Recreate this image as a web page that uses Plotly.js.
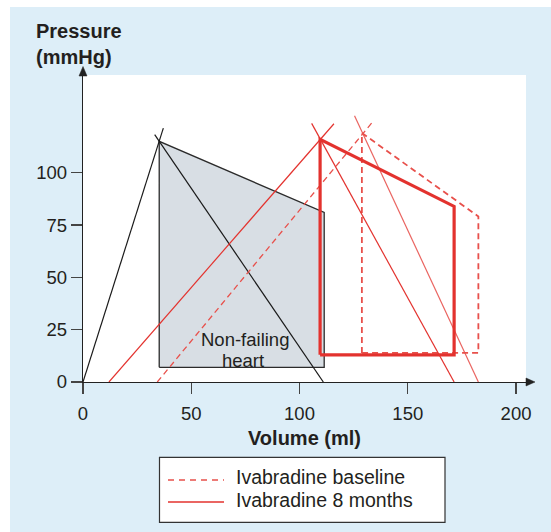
<!DOCTYPE html>
<html>
<head>
<meta charset="utf-8">
<script src="https://cdn.plot.ly/plotly-3.0.1.min.js"></script>
<style>html,body{margin:0;padding:0;background:#fff;}#chart{width:551px;height:532px;}</style>
</head>
<body>
<div id="chart"></div>
<script>
// ---- Data (volume in ml, pressure in mmHg) ----
// Non-failing heart (black, grey-filled loop)
const nfLoopV = [35.2, 35.2, 111.4, 111.4, 35.2];
const nfLoopP = [7, 115, 81, 7, 7];
const nfEspvrV = [0, 37.1];
const nfEspvrP = [0, 121.3];
const nfEaV = [33.1, 111.0];
const nfEaP = [118.2, 0];

// Ivabradine baseline (dashed red)
const baseLoopV = [128.8, 128.8, 182.6, 182.6, 128.8];
const baseLoopP = [13.9, 119.0, 79.1, 13.9, 13.9];
const baseEspvrV = [34.3, 133.3];
const baseEspvrP = [0, 123.7];
const baseEaV = [125.4, 182.6];
const baseEaP = [127.2, 0];

// Ivabradine 8 months (solid red)
const m8LoopV = [109.5, 109.5, 171.4, 171.4, 109.5];
const m8LoopP = [13.0, 116.0, 83.9, 13.0, 13.0];
const m8EspvrV = [12.0, 115.9];
const m8EspvrP = [0, 123.4];
const m8EaV = [105.6, 171.4];
const m8EaP = [123.6, 0];

// Ticks and labels
const xTicks = [0, 50, 100, 150, 200];
const yTicks = [0, 25, 50, 75, 100];
const legendLabels = ['Ivabradine baseline', 'Ivabradine 8 months'];
const loopLabel = ['Non-failing', 'heart'];

const RED = '#e3322e';
const INK = '#231f20';
const FONT = '"Liberation Sans", Arial, Helvetica, sans-serif';

const traces = [
  {x: nfLoopV, y: nfLoopP, mode: 'lines', fill: 'toself', fillcolor: '#d8dee4',
   line: {color: '#2b2b2b', width: 1.3}, name: 'Non-failing heart', showlegend: false, hoverinfo: 'skip'},
  {x: nfEspvrV, y: nfEspvrP, mode: 'lines', line: {color: '#1a1a1a', width: 1.2}, showlegend: false, hoverinfo: 'skip'},
  {x: nfEaV, y: nfEaP, mode: 'lines', line: {color: '#1a1a1a', width: 1.2}, showlegend: false, hoverinfo: 'skip'},

  {x: baseEspvrV, y: baseEspvrP, mode: 'lines', line: {color: '#e8504b', width: 1.3, dash: '6px,4px'}, showlegend: false, hoverinfo: 'skip'},
  {x: baseEaV, y: baseEaP, mode: 'lines', line: {color: '#ea6460', width: 1.2}, showlegend: false, hoverinfo: 'skip'},
  {x: baseLoopV, y: baseLoopP, mode: 'lines', line: {color: '#e8504b', width: 1.8, dash: '6px,4px'}, name: legendLabels[0], showlegend: false, hoverinfo: 'skip'},

  {x: m8EspvrV, y: m8EspvrP, mode: 'lines', line: {color: RED, width: 1.2}, showlegend: false, hoverinfo: 'skip'},
  {x: m8EaV, y: m8EaP, mode: 'lines', line: {color: RED, width: 1.2}, showlegend: false, hoverinfo: 'skip'},
  {x: m8LoopV, y: m8LoopP, mode: 'lines', line: {color: RED, width: 3.2}, name: legendLabels[1], showlegend: false, hoverinfo: 'skip'}
];

// pixel helpers for paper coordinates (plot area: x 83..526, y 75..382)
const L = 83, W = 443, B = 382, H = 307;
const px = v => (v - L) / W;
const py = v => (B - v) / H;

const layout = {
  width: 551, height: 532,
  margin: {l: 83, r: 25, t: 75, b: 150, pad: 0},
  paper_bgcolor: '#ddeef8',
  plot_bgcolor: '#ffffff',
  font: {family: FONT, color: INK, size: 18},
  showlegend: false,
  xaxis: {
    range: [0, 204.6], tickvals: xTicks, ticktext: xTicks.map(String),
    showgrid: false, zeroline: false, showline: true, linecolor: '#222', linewidth: 1.3,
    ticks: 'outside', ticklen: 11, tickwidth: 1.3, tickcolor: '#444', ticklabelstandoff: 3,
    tickfont: {size: 18.5, color: INK, family: FONT},
    title: {text: '<b>Volume (ml)</b>', font: {size: 20, color: INK, family: FONT}, standoff: 8},
    automargin: false, fixedrange: true
  },
  yaxis: {
    range: [0, 146.7], tickvals: yTicks, ticktext: yTicks.map(String),
    showgrid: false, zeroline: false, showline: true, linecolor: '#222', linewidth: 1.3,
    ticks: 'outside', ticklen: 11, tickwidth: 1.3, tickcolor: '#444',
    tickfont: {size: 18.5, color: INK, family: FONT},
    automargin: false, fixedrange: true
  },
  shapes: [
    // white strips outside the blue panel
    {type: 'rect', xref: 'paper', yref: 'paper', x0: px(0), x1: px(10), y0: py(532), y1: py(0), fillcolor: '#ffffff', line: {width: 0}, layer: 'above'},
    {type: 'rect', xref: 'paper', yref: 'paper', x0: px(0), x1: px(551), y0: py(7), y1: py(0), fillcolor: '#ffffff', line: {width: 0}, layer: 'above'},
    // axis arrow extensions
    {type: 'line', xref: 'paper', yref: 'paper', x0: px(526), x1: px(528), y0: 0, y1: 0, line: {color: '#222', width: 1.3}},
    {type: 'path', xref: 'paper', yref: 'paper', path: `M${px(526)},${py(B - 4)} L${px(535)},${py(B)} L${px(526)},${py(B + 4)} Z`, fillcolor: '#222', line: {color: '#222', width: 0.5}},
    {type: 'line', xref: 'paper', yref: 'paper', x0: 0, x1: 0, y0: 1, y1: py(73), line: {color: '#222', width: 1.3}},
    {type: 'path', xref: 'paper', yref: 'paper', path: `M${px(L - 4)},${py(76)} L${px(L)},${py(66.5)} L${px(L + 4)},${py(76)} Z`, fillcolor: '#222', line: {color: '#222', width: 0.5}},
    // legend box
    {type: 'rect', xref: 'paper', yref: 'paper', x0: px(159.5), x1: px(445), y0: py(522.3), y1: py(457.3), fillcolor: '#ffffff', line: {color: '#333', width: 1.2}},
    {type: 'line', xref: 'paper', yref: 'paper', x0: px(168), x1: px(224), y0: py(480), y1: py(480), line: {color: '#e8504b', width: 1.3, dash: '6px,5px'}},
    {type: 'line', xref: 'paper', yref: 'paper', x0: px(168), x1: px(224), y0: py(502), y1: py(502), line: {color: RED, width: 1.3}}
  ],
  annotations: [
    {xref: 'paper', yref: 'paper', x: px(35), y: py(19), xanchor: 'left', yanchor: 'top', align: 'left',
     text: '<b>Pressure</b><br><b>(mmHg)</b>', showarrow: false, borderpad: 0, font: {size: 20, color: INK, family: FONT}},
    {xref: 'x', yref: 'y', x: 74.6, y: 20.1, text: loopLabel[0], showarrow: false, borderpad: 0,
     font: {size: 18.5, color: INK, family: FONT}},
    {xref: 'x', yref: 'y', x: 73.7, y: 10.5, text: loopLabel[1], showarrow: false, borderpad: 0,
     font: {size: 18.5, color: INK, family: FONT}},
    {xref: 'paper', yref: 'paper', x: px(235), y: py(477.1), xanchor: 'left', yanchor: 'middle', text: legendLabels[0],
     showarrow: false, borderpad: 0, font: {size: 19.5, color: INK, family: FONT}},
    {xref: 'paper', yref: 'paper', x: px(235), y: py(499.8), xanchor: 'left', yanchor: 'middle', text: legendLabels[1],
     showarrow: false, borderpad: 0, font: {size: 19.5, color: INK, family: FONT}}
  ]
};

Plotly.newPlot('chart', traces, layout, {displayModeBar: false, staticPlot: true});
</script>
</body>
</html>
